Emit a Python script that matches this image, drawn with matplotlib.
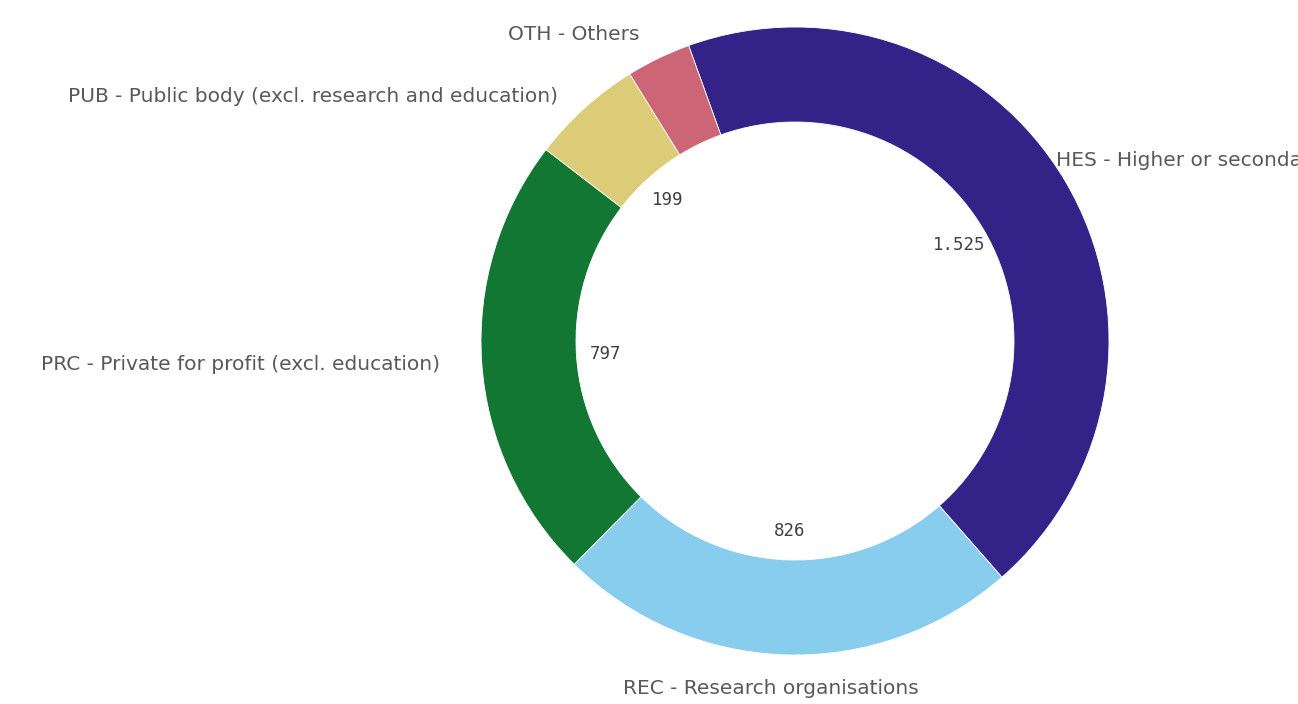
import matplotlib
matplotlib.use("Agg")
import matplotlib.pyplot as plt
import numpy as np

codes = ["HES", "REC", "PRC", "PUB", "OTH"]
labels = [
    "HES - Higher or secondary education establishments",
    "REC - Research organisations",
    "PRC - Private for profit (excl. education)",
    "PUB - Public body (excl. research and education)",
    "OTH - Others",
]
values = [1525, 826, 797, 199, 115]
value_labels = ["1.525", "826", "797", "199", ""]
colors = ["#332288", "#88CCEE", "#117733", "#DDCC77", "#CC6677"]

W, H = 1298, 704
fig = plt.figure(figsize=(W / 100, H / 100), dpi=100)
ax = fig.add_axes([0, 0, 1, 1])

cx, cy = 795, H - 341
R = 314
ring = 95
start = 109.8

wedges, _ = ax.pie(values, colors=colors, startangle=start, counterclock=False,
                   radius=R, center=(cx, cy), frame=True,
                   wedgeprops=dict(width=ring, edgecolor="white", linewidth=0.6))
ax.set_xlim(0, W)
ax.set_ylim(0, H)
ax.set_aspect("equal")
ax.axis("off")

# inner value labels
r_lab = 190
for w, vl in zip(wedges, value_labels):
    if not vl:
        continue
    ang = np.deg2rad((w.theta1 + w.theta2) / 2)
    x = cx + r_lab * np.cos(ang)
    y = cy + r_lab * np.sin(ang)
    ax.text(x, y, vl, ha="center", va="center", fontsize=12.5,
            color="#404040", family="DejaVu Sans Mono")

# outer category labels
lab_col = "#595959"
fs = 14.5
pos = {
    "HES": (1056, H - 160, "left"),
    "REC": (771, H - 688, "center"),
    "PRC": (440, H - 364, "right"),
    "PUB": (558, H - 97, "right"),
    "OTH": (640, H - 35, "right"),
}
for c, lab in zip(codes, labels):
    x, y, ha = pos[c]
    ax.text(x, y, lab, ha=ha, va="center", fontsize=fs, color=lab_col,
            family="DejaVu Sans")

fig.savefig("out.png", dpi=100)
